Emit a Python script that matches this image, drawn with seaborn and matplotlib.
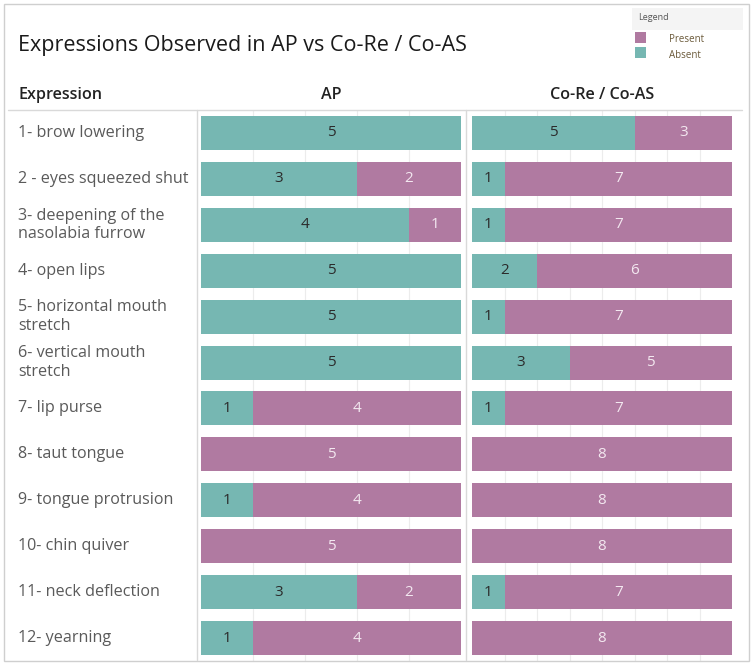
import pandas as pd
import matplotlib.pyplot as plt
import seaborn as sns
from matplotlib.patches import Rectangle

# dados
expressions = ['1- brow lowering', '2 - eyes squeezed shut',
               '3- deepening of the\nnasolabia furrow', '4- open lips',
               '5- horizontal mouth\nstretch', '6- vertical mouth\nstretch',
               '7- lip purse', '8- taut tongue', '9- tongue protrusion',
               '10- chin quiver', '11- neck deflection', '12- yearning']
ap_absent = [5, 3, 4, 5, 5, 5, 1, 0, 1, 0, 3, 1]
ap_present = [0, 2, 1, 0, 0, 0, 4, 5, 4, 5, 2, 4]
co_absent = [5, 1, 1, 2, 1, 3, 1, 0, 0, 0, 1, 0]
co_present = [3, 7, 7, 6, 7, 5, 7, 8, 8, 8, 7, 8]

panels = ['AP', 'Co-Re / Co-AS']
teal = '#76b7b2'
purple = '#b07aa1'

sns.set_style('white')
plt.rcParams['font.family'] = ['Open Sans', 'DejaVu Sans']

W, H = 753, 664
fig = plt.figure(figsize=(W / 100, H / 100), dpi=100)


def px(x0, y0, x1, y1):
    # caixa em pixels (topo-esquerda) -> fração da figura
    return [x0 / W, 1 - y1 / H, (x1 - x0) / W, (y1 - y0) / H]


def panel(ax, absent, present, xmax):
    df = pd.DataFrame({'Expression': expressions, 'Absent': absent,
                       'Present': present})
    df['Total'] = df['Absent'] + df['Present']
    sns.barplot(data=df, x='Total', y='Expression', orient='h', color=purple,
                saturation=1, width=0.74, ax=ax, linewidth=0)
    sns.barplot(data=df, x='Absent', y='Expression', orient='h', color=teal,
                saturation=1, width=0.74, ax=ax, linewidth=0)
    for i, (a, p) in enumerate(zip(absent, present)):
        if a > 0:
            ax.text(a / 2, i, str(a), ha='center', va='center',
                    fontsize=11, color='#2b2b2b')
        if p > 0:
            ax.text(a + p / 2, i, str(p), ha='center', va='center',
                    fontsize=11, color='#f3e8f0')
    ax.set_xlim(0, xmax)
    ax.set_ylim(11.5, -0.5)
    ax.set_xticks(range(1, xmax))
    ax.grid(axis='x', color='#ececec', linewidth=0.8)
    ax.set_axisbelow(True)
    ax.set_xlabel('')
    ax.set_ylabel('')
    ax.tick_params(left=False, bottom=False, labelleft=False, labelbottom=False)
    sns.despine(ax=ax, left=True, bottom=True)


ax1 = fig.add_axes(px(201, 110, 461, 661))
panel(ax1, ap_absent, ap_present, 5)
ax2 = fig.add_axes(px(472, 110, 732, 661))
panel(ax2, co_absent, co_present, 8)

# rótulos das linhas
for i, lab in enumerate(expressions):
    y = 133 + i * 45.9
    fig.text(18 / W, 1 - y / H, lab, ha='left', va='center', fontsize=11.6,
             color='#5a5a5a', linespacing=1.2)

# cabeçalhos
fig.text(18 / W, 1 - 95 / H, 'Expression', ha='left', va='center',
         fontsize=11.6, color='#222222', fontweight='semibold')
fig.text(331 / W, 1 - 95 / H, panels[0], ha='center', va='center',
         fontsize=11.6, color='#222222', fontweight='semibold')
fig.text(602 / W, 1 - 95 / H, panels[1], ha='center', va='center',
         fontsize=11.6, color='#222222', fontweight='semibold')

# título
fig.text(18 / W, 1 - 46 / H, 'Expressions Observed in AP vs Co-Re / Co-AS',
         ha='left', va='center', fontsize=15.5, color='#1a1a1a')

# legenda
fig.add_artist(Rectangle((632 / W, 1 - 30 / H), 111 / W, 22 / H,
                         transform=fig.transFigure, color='#f4f4f4', lw=0))
fig.text(638 / W, 1 - 17 / H, 'Legend', ha='left', va='center', fontsize=6.5,
         color='#555555')
for yy, lab, col in [(38, 'Present', purple), (53, 'Absent', teal)]:
    fig.add_artist(Rectangle((635 / W, 1 - (yy + 5) / H), 11 / W, 11 / H,
                             transform=fig.transFigure, color=col, lw=0))
    fig.text(669 / W, 1 - (yy + 2) / H, lab, ha='left', va='center',
             fontsize=7, color='#6b5a3a')

# linhas de grade da tabela
line_kw = dict(transform=fig.transFigure, color='#d9d9d9', lw=1)
fig.add_artist(plt.Line2D([8 / W, 742 / W], [1 - 110 / H] * 2, **line_kw))
fig.add_artist(plt.Line2D([197 / W] * 2, [1 - 110 / H, 1 - 660 / H], **line_kw))
fig.add_artist(plt.Line2D([466 / W] * 2, [1 - 110 / H, 1 - 660 / H], **line_kw))
fig.add_artist(Rectangle((4 / W, 3 / H), 745 / W, 657 / H, transform=fig.transFigure,
                         fill=False, edgecolor='#cfcfcf', lw=1))

fig.savefig('out.png', dpi=100)
